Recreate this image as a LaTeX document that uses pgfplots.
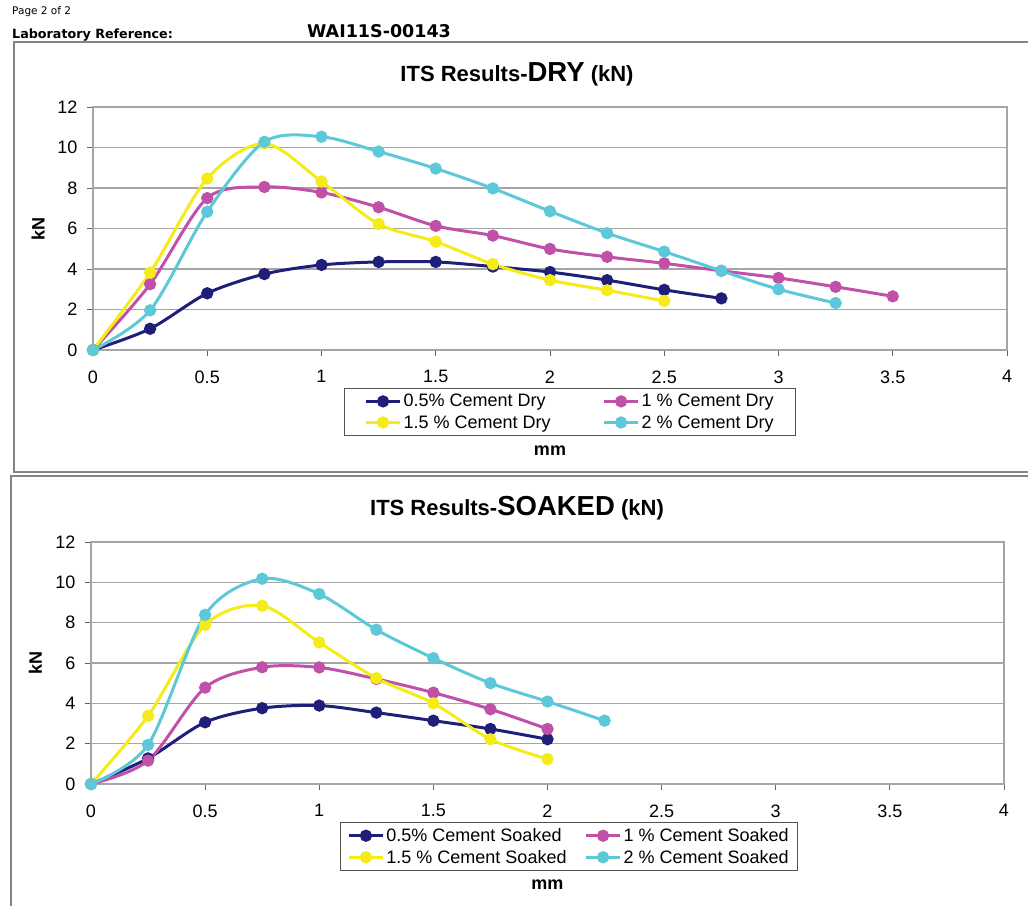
\documentclass[border=0pt]{standalone}
\usepackage{pgfplots}
\pgfplotsset{compat=1.18}
\usepackage{fontspec}
\setmainfont{Liberation Sans}
\newfontfamily\hdrfont{DejaVu Sans}
\definecolor{cNavy}{RGB}{31,31,122}
\definecolor{cMag}{RGB}{192,80,168}
\definecolor{cYel}{RGB}{245,235,25}
\definecolor{cCyan}{RGB}{92,200,216}
\definecolor{gridgray}{RGB}{165,165,165}
\pgfplotsset{
  itsaxis/.style={
    scale only axis,
    xmin=0, xmax=4, ymin=0, ymax=12,
    xtick={0,0.5,...,4}, ytick={0,2,...,12},
    xtick pos=bottom, ytick pos=left,
    tick align=outside, major tick length=6pt,
    ymajorgrids,
    grid style={gridgray, line width=1.1pt},
    axis line style={gridgray, line width=1.1pt},
    tick style={gridgray!60!black, line width=0.9pt},
    /pgf/number format/assume math mode=true,
    tick label style={font=\fontsize{18}{18}\selectfont},
    xticklabel style={yshift=-11pt},
    yticklabel style={xshift=-6pt},
    label style={font=\bfseries\fontsize{18}{18}\selectfont},
    legend columns=2,
    legend cell align=left,
    legend style={draw=gridgray!50!black, line width=0.9pt,
      font=\fontsize{18}{20}\selectfont,
      inner xsep=20pt, inner ysep=4pt, row sep=3pt,
      /tikz/every even column/.append style={column sep=50pt}},
    legend image code/.code={\draw[mark repeat=2,mark phase=2,#1]
      plot coordinates {(0pt,0pt) (17pt,0pt) (34pt,0pt)};},
    every axis plot/.append style={line width=3pt, mark=*, mark size=4.6pt, smooth, tension=0.5},
  },
}
\begin{document}
\begin{tikzpicture}
\useasboundingbox (0pt,0pt) rectangle (1028pt,-905pt);
% header
\node[anchor=base west, inner sep=0pt] at (12pt,-14pt) {\hdrfont\fontsize{10.5}{11}\selectfont Page 2 of 2};
\node[anchor=base west, inner sep=0pt] at (12pt,-38.5pt) {\hdrfont\bfseries\fontsize{12.7}{13}\selectfont Laboratory Reference:};
\node[anchor=base west, inner sep=0pt] at (307pt,-37pt) {\hdrfont\bfseries\fontsize{17.5}{18}\selectfont WAI11S-00143};
% boxes
\draw[gridgray!80!black, line width=1.4pt] (1032pt,-42pt) -- (14pt,-42pt) -- (14pt,-472pt) -- (1032pt,-472pt);
\draw[gridgray!80!black, line width=1.4pt] (1032pt,-476pt) -- (11pt,-476pt) -- (11pt,-910pt);
% titles
\node[anchor=base, inner sep=0pt] at (517pt,-81pt) {\bfseries\fontsize{22}{22}\selectfont ITS Results-{\fontsize{27.5}{28}\selectfont DRY} (kN)};
\node[anchor=base, inner sep=0pt] at (517pt,-515pt) {\bfseries\fontsize{22}{22}\selectfont ITS Results-{\fontsize{27.5}{28}\selectfont SOAKED} (kN)};

\begin{axis}[itsaxis, at={(93pt,-350pt)}, anchor=south west, width=914pt, height=243pt,
  xlabel={mm}, ylabel={kN},
  xlabel style={at={(axis description cs:0.5,-0.413)}, anchor=center},
  ylabel style={at={(axis description cs:-0.060,0.5)}, anchor=center, rotate=0},
  legend style={at={(0.522,-0.156)}, anchor=north}]
\addplot[cNavy, mark options={fill=cNavy}] coordinates {(0,0)(0.25,1.05)(0.5,2.8)(0.75,3.75)(1,4.2)(1.25,4.35)(1.5,4.35)(1.75,4.12)(2,3.85)(2.25,3.45)(2.5,2.97)(2.75,2.55)};
\addlegendentry{0.5\% Cement Dry}
\addplot[cMag, mark options={fill=cMag}] coordinates {(0,0)(0.25,3.25)(0.5,7.5)(0.75,8.05)(1,7.78)(1.25,7.05)(1.5,6.13)(1.75,5.65)(2,4.99)(2.25,4.6)(2.5,4.28)(2.75,3.91)(3,3.56)(3.25,3.12)(3.5,2.65)};
\addlegendentry{1 \% Cement Dry}
\addplot[cYel, mark options={fill=cYel}] coordinates {(0,0)(0.25,3.82)(0.5,8.47)(0.75,10.2)(1,8.32)(1.25,6.22)(1.5,5.35)(1.75,4.24)(2,3.45)(2.25,2.95)(2.5,2.42)};
\addlegendentry{1.5 \% Cement Dry}
\addplot[cCyan, mark options={fill=cCyan}] coordinates {(0,0)(0.25,1.96)(0.5,6.83)(0.75,10.28)(1,10.53)(1.25,9.8)(1.5,8.96)(1.75,7.98)(2,6.85)(2.25,5.77)(2.5,4.86)(2.75,3.91)(3,3.0)(3.25,2.32)};
\addlegendentry{2 \% Cement Dry}
\end{axis}

\begin{axis}[itsaxis, at={(91pt,-784pt)}, anchor=south west, width=913pt, height=242pt,
  xlabel={mm}, ylabel={kN},
  xlabel style={at={(axis description cs:0.5,-0.417)}, anchor=center},
  ylabel style={at={(axis description cs:-0.061,0.5)}, anchor=center, rotate=0},
  legend style={at={(0.5236,-0.157)}, anchor=north, inner xsep=7pt,
    /tikz/every even column/.append style={column sep=16pt}}]
\addplot[cNavy, mark options={fill=cNavy}] coordinates {(0,0)(0.25,1.27)(0.5,3.06)(0.75,3.76)(1,3.89)(1.25,3.54)(1.5,3.14)(1.75,2.73)(2,2.22)};
\addlegendentry{0.5\% Cement Soaked}
\addplot[cMag, mark options={fill=cMag}] coordinates {(0,0)(0.25,1.16)(0.5,4.78)(0.75,5.79)(1,5.78)(1.25,5.21)(1.5,4.53)(1.75,3.71)(2,2.73)};
\addlegendentry{1 \% Cement Soaked}
\addplot[cYel, mark options={fill=cYel}] coordinates {(0,0)(0.25,3.38)(0.5,7.89)(0.75,8.84)(1,7.02)(1.25,5.25)(1.5,4.0)(1.75,2.22)(2,1.24)};
\addlegendentry{1.5 \% Cement Soaked}
\addplot[cCyan, mark options={fill=cCyan}] coordinates {(0,0)(0.25,1.94)(0.5,8.39)(0.75,10.18)(1,9.42)(1.25,7.65)(1.5,6.24)(1.75,5.0)(2,4.09)(2.25,3.14)};
\addlegendentry{2 \% Cement Soaked}
\end{axis}
\end{tikzpicture}
\end{document}
